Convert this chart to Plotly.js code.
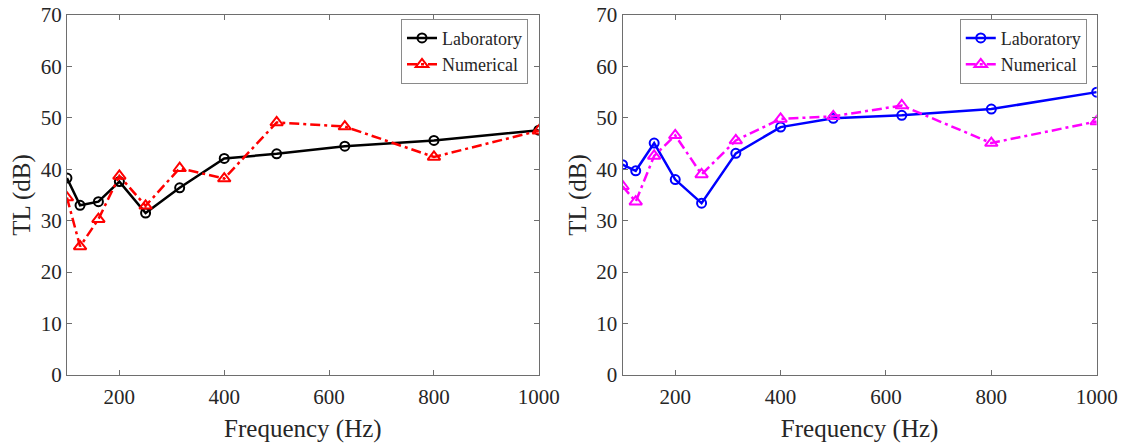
<!DOCTYPE html>
<html>
<head>
<meta charset="utf-8">
<script src="https://cdn.plot.ly/plotly-3.0.1.min.js"></script>
<style>html,body{margin:0;padding:0;background:#fff;}#chart{width:1127px;height:446px;}</style>
</head>
<body>
<div id="chart"></div>
<script>
// Frequencies (Hz)
var frequency = [100, 125, 160, 200, 250, 315, 400, 500, 630, 800, 1000];
// Left panel
var labLeft = [38.3, 33.0, 33.7, 37.6, 31.5, 36.4, 42.1, 43.0, 44.5, 45.6, 47.6];
var numLeft = [34.5, 25.0, 30.3, 38.7, 32.9, 40.2, 38.2, 49.1, 48.3, 42.4, 47.5];
// Right panel
var labRight = [40.9, 39.7, 45.1, 38.0, 33.4, 43.1, 48.2, 49.9, 50.5, 51.7, 55.0];
var numRight = [36.7, 33.7, 42.6, 46.6, 39.0, 45.6, 49.8, 50.3, 52.4, 45.1, 49.3];
var seriesNames = ["Laboratory", "Numerical"];
var xTickVals = [200, 400, 600, 800, 1000];
var yTickVals = [0, 10, 20, 30, 40, 50, 60, 70];
var xTitle = "Frequency (Hz)";
var yTitle = "TL (dB)";

var FONT = "Liberation Serif, Times New Roman, serif";
var TXT = "#262626";
var AX = "#6e6e6e";

function labTrace(y, color, xa, ya, leg) {
  return {x: frequency, y: y, name: seriesNames[0], type: "scatter", mode: "lines+markers",
    xaxis: xa, yaxis: ya, legend: leg,
    line: {color: color, width: 2.5},
    marker: {symbol: "circle-open", size: 9, color: color, line: {width: 2, color: color}}};
}
function numTrace(y, color, xa, ya, leg) {
  return {x: frequency, y: y, name: seriesNames[1], type: "scatter", mode: "lines+markers",
    xaxis: xa, yaxis: ya, legend: leg,
    line: {color: color, width: 2.5, dash: "10px,4px,3px,4px"},
    marker: {symbol: "triangle-up-open", size: 11, color: color, line: {width: 2, color: color}}};
}

var traces = [
  labTrace(labLeft, "#000000", "x", "y", "legend"),
  numTrace(numLeft, "#ff0000", "x", "y", "legend"),
  labTrace(labRight, "#0000ff", "x2", "y2", "legend2"),
  numTrace(numRight, "#ff00ff", "x2", "y2", "legend2")
];

function xaxis(domain, anchor) {
  return {domain: domain, anchor: anchor, range: [100, 1000], tickvals: xTickVals,
    showgrid: false, zeroline: false, showline: true, mirror: "ticks", linecolor: AX, linewidth: 1,
    ticks: "inside", ticklen: 5, tickcolor: AX, tickwidth: 1, ticklabelstandoff: 3,
    tickfont: {family: FONT, size: 21, color: TXT}, automargin: false,
    title: {text: xTitle, font: {family: FONT, size: 25, color: TXT}, standoff: 11}};
}
function yaxis(anchor) {
  return {domain: [0.1592, 0.9664], anchor: anchor, range: [0, 70], tickvals: yTickVals,
    showgrid: false, zeroline: false, showline: true, mirror: "ticks", linecolor: AX, linewidth: 1,
    ticks: "inside", ticklen: 5, tickcolor: AX, tickwidth: 1,
    tickfont: {family: FONT, size: 21, color: TXT}, automargin: false,
    title: {text: yTitle, font: {family: FONT, size: 25, color: TXT}, standoff: 2}};
}
function legend(xRight) {
  return {x: xRight, y: 0.958, xanchor: "right", yanchor: "top", xref: "paper", yref: "paper",
    bgcolor: "#ffffff", bordercolor: "#8a8a8a", borderwidth: 1,
    font: {family: FONT, size: 18, color: TXT}, tracegroupgap: 0, itemwidth: 30};
}

var layout = {
  width: 1127, height: 446,
  margin: {l: 0, r: 0, t: 0, b: 0},
  paper_bgcolor: "#ffffff", plot_bgcolor: "#ffffff",
  showlegend: true,
  xaxis: xaxis([0.0594, 0.4781], "y"),
  yaxis: yaxis("x"),
  xaxis2: xaxis([0.5524, 0.9731], "y2"),
  yaxis2: yaxis("x2"),
  legend: legend(0.4685),
  legend2: legend(0.9643)
};

Plotly.newPlot("chart", traces, layout, {displayModeBar: false, staticPlot: true});
</script>
</body>
</html>
